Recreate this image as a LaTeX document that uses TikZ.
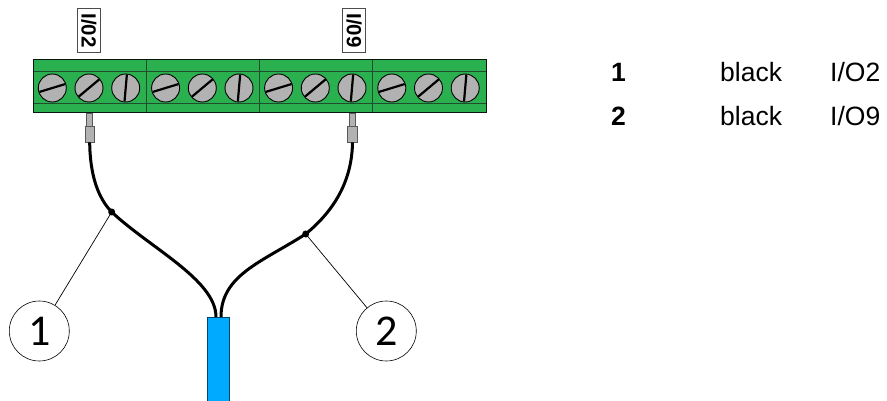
\documentclass[tikz,border=0pt]{standalone}
\usepackage{fontspec}
\setmainfont{Liberation Sans}
\newfontfamily\numfont{Carlito}
\definecolor{vert}{HTML}{2BB04F}
\definecolor{vertfonce}{HTML}{1F4D2E}
\definecolor{bleu}{HTML}{00AAFF}
\definecolor{vis}{HTML}{B2B2B2}
\tikzset{
  screw/.style={circle,draw=black,line width=0.9pt,fill=vis,minimum size=28pt,inner sep=0pt},
  slot/.style={line width=2.2pt,black},
  tag/.style={draw=black!70,fill=white,line width=1pt,rotate=-90,minimum width=44.5pt,minimum height=23pt,inner sep=0pt,font=\bfseries\fontsize{20.5}{20.5}\selectfont},
  ferrule/.style={draw=black!65,fill=black!30,line width=0.8pt,inner sep=0pt},
  wire/.style={line width=3pt,black},
  callout/.style={circle,draw=black,line width=0.6pt,minimum size=60pt,inner sep=0pt,font=\numfont\fontsize{44}{44}\selectfont},
  legend/.style={anchor=base west,inner sep=0pt,font=\fontsize{26.5}{26.5}\selectfont}
}
\begin{document}
\begin{tikzpicture}[x=1pt,y=-1pt]
\useasboundingbox (0,0) rectangle (887,401);
\def \Top {60};
\def \Bottom {113};
\def \Rad {13.5};

%le bornier
\fill[vert] (33,\Top) rectangle (486,\Bottom);
\draw[vertfonce,line width=1pt] (33,71.5) -- (486,71.5) (33,104) -- (486,104);
\draw[vertfonce,line width=1pt] (146,\Top) -- (146,\Bottom) (259,\Top) -- (259,\Bottom) (372,\Top) -- (372,\Bottom);
\draw[black!70!vertfonce,line width=1pt] (33,\Top) rectangle (486,\Bottom);

%les vis
\foreach \translate/\name in {0/a,113.3/b,226.3/c,339.5/d}{
  \begin{scope}[shift={(\translate,0)}]
  \node[screw] (\name1) at (52.3,88) {};
  \node[screw] (\name2) at (89,88) {};
  \node[screw] (\name3) at (125.7,88) {};
  \draw[slot] (52.3,88) ++(163:\Rad) -- ++(-17:27);% y is down
  \draw[slot] (89,88) ++(140:\Rad) -- ++(-40:27);
  \draw[slot] (125.7,88) ++(95:\Rad) -- ++(-85:27);
  \end{scope}
}

%les etiquettes
\node[tag] (tagA) at (88.8,30.7) {I/02};
\node[tag] (tagB) at (354.2,30.7) {I/09};

%les embouts
\node[ferrule,minimum width=6pt,minimum height=13pt] (stemA) at (89.7,119.5) {};
\node[ferrule,minimum width=9.5pt,minimum height=16pt] (tipA) at (89.7,134) {};
\node[ferrule,minimum width=6pt,minimum height=13pt] (stemB) at (352.5,119.5) {};
\node[ferrule,minimum width=9.5pt,minimum height=16pt] (tipB) at (352.5,134) {};

%le cable
\coordinate (W1) at (111.7,212);
\coordinate (W2) at (305.7,234);
\coordinate (L) at (216,317);
\coordinate (R) at (221,317);
\draw[wire] (tipA.south) .. controls (90,175) and (98,198) .. (W1) .. controls (150,248) and (216,280) .. (L);
\draw[wire] (tipB.south) .. controls (352,180) and (335,210) .. (W2) .. controls (262,262) and (221,275) .. (R);
\fill[bleu] (207.5,317) rectangle (229.5,402);
\draw[black!60!bleu,line width=0.9pt] (207.5,402) -- (207.5,317) -- (229.5,317) -- (229.5,402);

%les reperes
\fill (W1) circle (3.5);
\fill (W2) circle (3.5);
\node[callout] (num1) at (39.3,331) {1};
\node[callout] (num2) at (386.3,331) {2};
\draw[line width=0.7pt] (num1) -- (W1);
\draw[line width=0.7pt] (num2) -- (W2);

%la legende
\node[legend,font=\bfseries\fontsize{26.5}{26.5}\selectfont] (k1) at (611,82) {1};
\node[legend] (c1) at (720,82) {black};
\node[legend] (p1) at (830,82) {I/O2};
\node[legend,font=\bfseries\fontsize{26.5}{26.5}\selectfont] (k2) at (611,126) {2};
\node[legend] (c2) at (720,126) {black};
\node[legend] (p2) at (830,126) {I/O9};
\end{tikzpicture}
\end{document}
